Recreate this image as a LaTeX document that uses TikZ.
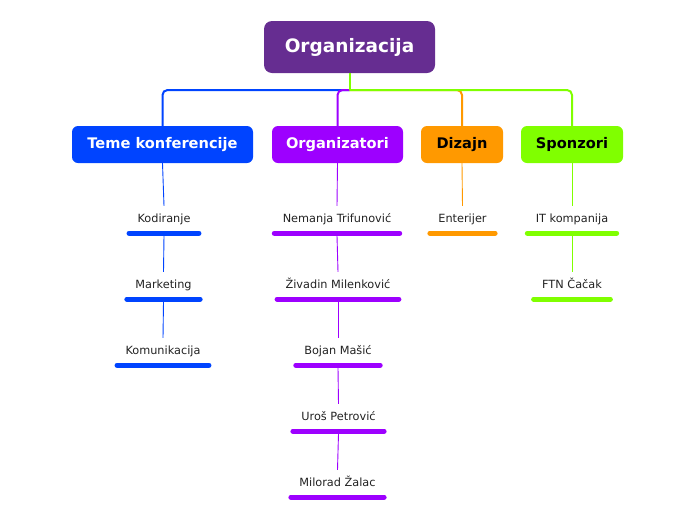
\documentclass[tikz,border=0pt]{standalone}
\usepackage{fontspec}
\setmainfont{DejaVu Sans}
\definecolor{cRoot}{HTML}{662D91}
\definecolor{cBlue}{HTML}{0044FF}
\definecolor{cPurple}{HTML}{9D00FF}
\definecolor{cOrange}{HTML}{FF9900}
\definecolor{cGreen}{HTML}{80FF00}
\definecolor{leafgray}{HTML}{222222}
\begin{document}
\begin{tikzpicture}[x=1pt,y=-1pt,
  rootbox/.style={fill=cRoot, text=white, rounded corners=8pt, minimum width=171pt, minimum height=52pt, inner sep=0pt, font=\fontsize{18.5}{22}\selectfont\bfseries},
  childbox/.style={rounded corners=6pt, minimum height=37pt, inner sep=0pt, font=\fontsize{14.6}{17}\selectfont\bfseries},
  leaf/.style={anchor=base, inner xsep=8.3pt, inner ysep=8pt, text height=8pt, text depth=3pt, font=\fontsize{11.3}{13}\selectfont, text=leafgray},
  mainlink/.style={line width=2pt, rounded corners=5pt},
  leaflink/.style={line width=0.9pt},
  bar/.style={line width=5pt, line cap=round}]
\useasboundingbox (0,0) rectangle (696,520);

% root
\node[rootbox] (root) at (349.5,47) {Organizacija};
\coordinate (j) at (349.5,90);

% children
\node[childbox, fill=cBlue, text=white, minimum width=181pt] (c1) at (162.5,144.5) {Teme konferencije};
\node[childbox, fill=cPurple, text=white, minimum width=131pt] (c2) at (337.5,144.5) {Organizatori};
\node[childbox, fill=cOrange, text=black, minimum width=82pt] (c3) at (462,144.5) {Dizajn};
\node[childbox, fill=cGreen, text=black, minimum width=102pt] (c4) at (572,144.5) {Sponzori};

% main links
\draw[mainlink, cBlue] (j) -| (c1.north);
\draw[mainlink, cPurple] (j) -| (c2.north);
\draw[mainlink, cOrange] (j) -| (c3.north);
\draw[mainlink, cGreen] (j) -| (c4.north);
\draw[line width=2pt, cGreen] (root.south) -- (j);

% leaves: Teme konferencije
\node[leaf] (a1) at (164,222) {Kodiranje};
\node[leaf] (a2) at (163.5,288) {Marketing};
\node[leaf] (a3) at (163,354) {Komunikacija};
% Organizatori
\node[leaf] (b1) at (337,222) {Nemanja Trifunović};
\node[leaf] (b2) at (338,288) {Živadin Milenković};
\node[leaf] (b3) at (338,354) {Bojan Mašić};
\node[leaf] (b4) at (338.5,420) {Uroš Petrović};
\node[leaf] (b5) at (337.5,486) {Milorad Žalac};
% Dizajn
\node[leaf] (d1) at (462.5,222) {Enterijer};
% Sponzori
\node[leaf] (s1) at (572,222) {IT kompanija};
\node[leaf] (s2) at (572,288) {FTN Čačak};

% bars
\foreach \n/\c in {a1/cBlue,a2/cBlue,a3/cBlue,b1/cPurple,b2/cPurple,b3/cPurple,b4/cPurple,b5/cPurple,d1/cOrange,s1/cGreen,s2/cGreen}
  \draw[bar, \c] (\n.south west) -- (\n.south east);

% leaf links
\draw[leaflink, cBlue] (c1.south) -- (a1.north);
\draw[leaflink, cBlue] ([yshift=-2.5pt]a1.south) -- (a2.north);
\draw[leaflink, cBlue] ([yshift=-2.5pt]a2.south) -- (a3.north);
\draw[leaflink, cPurple] (c2.south) -- (b1.north);
\draw[leaflink, cPurple] ([yshift=-2.5pt]b1.south) -- (b2.north);
\draw[leaflink, cPurple] ([yshift=-2.5pt]b2.south) -- (b3.north);
\draw[leaflink, cPurple] ([yshift=-2.5pt]b3.south) -- (b4.north);
\draw[leaflink, cPurple] ([yshift=-2.5pt]b4.south) -- (b5.north);
\draw[leaflink, cOrange] (c3.south) -- (d1.north);
\draw[leaflink, cGreen] (c4.south) -- (s1.north);
\draw[leaflink, cGreen] ([yshift=-2.5pt]s1.south) -- (s2.north);
\end{tikzpicture}
\end{document}
